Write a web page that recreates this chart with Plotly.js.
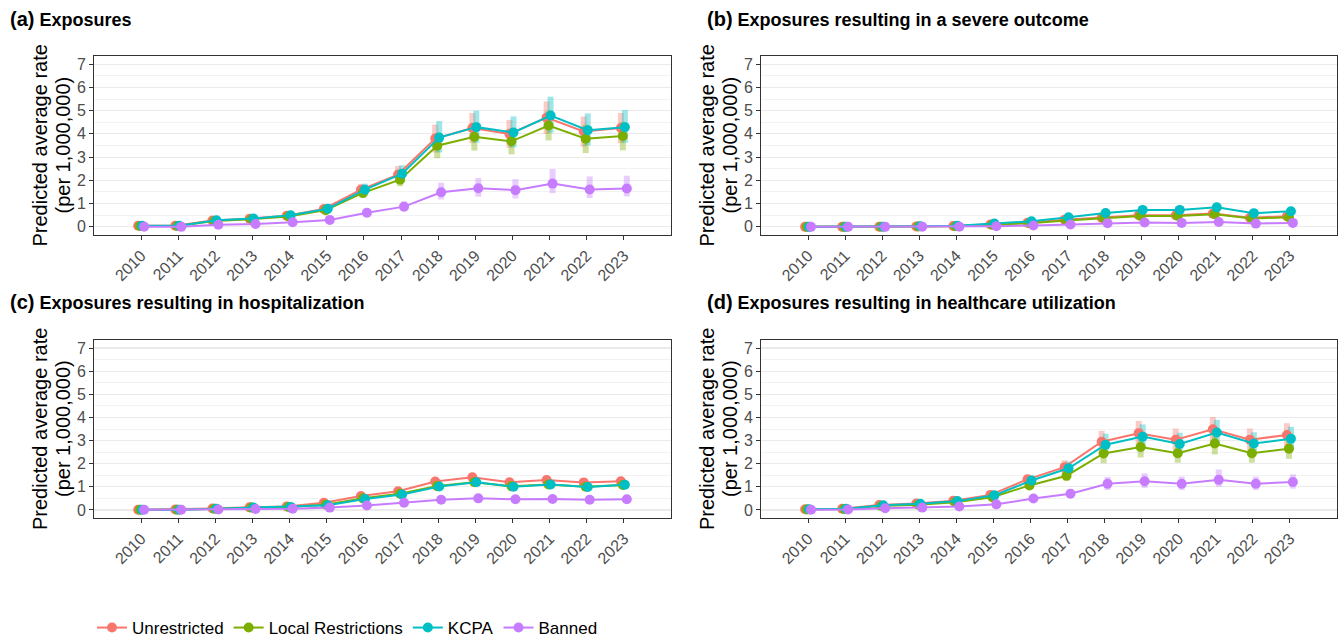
<!DOCTYPE html>
<html>
<head>
<meta charset="utf-8">
<script src="https://cdn.plot.ly/plotly-3.0.1.min.js"></script>
<style>html,body{margin:0;padding:0;background:#fff;}#chart{width:1344px;height:640px;}</style>
</head>
<body>
<div id="chart"></div>
<script>
// ---------------- DATA ----------------
const years = [2010,2011,2012,2013,2014,2015,2016,2017,2018,2019,2020,2021,2022,2023];
const yearLabels = years.map(String);
const seriesNames = ['Unrestricted','Local Restrictions','KCPA','Banned'];
const panelTitles = ['Exposures','Exposures resulting in a severe outcome','Exposures resulting in hospitalization','Exposures resulting in healthcare utilization'];
const panelTags = ['(a)','(b)','(c)','(d)'];

// (a) Exposures  — rows: Unrestricted, Local Restrictions, KCPA, Banned
const expVal = [
  [0.05,0.05,0.27,0.35,0.48,0.77,1.60,2.25,3.80,4.25,4.00,4.70,4.10,4.25],
  [0.04,0.04,0.25,0.33,0.45,0.72,1.46,2.03,3.49,3.88,3.68,4.36,3.79,3.91],
  [0.05,0.05,0.28,0.36,0.50,0.78,1.60,2.29,3.84,4.29,4.06,4.79,4.16,4.29],
  [0.01,0.00,0.09,0.12,0.20,0.30,0.61,0.87,1.49,1.66,1.58,1.86,1.61,1.65]];
const expLo = [
  [0.02,0.02,0.20,0.27,0.38,0.62,1.35,1.90,3.20,3.60,3.40,4.00,3.45,3.60],
  [0.02,0.02,0.19,0.26,0.36,0.58,1.24,1.75,2.95,3.28,3.12,3.72,3.17,3.29],
  [0.02,0.02,0.21,0.28,0.40,0.63,1.36,1.95,3.20,3.62,3.42,4.05,3.50,3.62],
  [0.00,0.00,0.05,0.07,0.13,0.21,0.47,0.68,1.18,1.30,1.22,1.45,1.24,1.31]];
const expHi = [
  [0.09,0.09,0.34,0.44,0.59,0.93,1.85,2.62,4.40,4.90,4.60,5.40,4.75,4.90],
  [0.07,0.07,0.31,0.40,0.54,0.86,1.70,2.32,4.02,4.48,4.24,5.00,4.40,4.52],
  [0.09,0.09,0.36,0.45,0.61,0.94,1.86,2.65,4.55,5.00,4.75,5.60,4.88,5.03],
  [0.03,0.02,0.14,0.18,0.28,0.41,0.77,1.10,1.90,2.10,2.05,2.49,2.17,2.20]];

// (b) Severe outcome
const sevVal = [
  [0.00,0.00,0.01,0.02,0.04,0.10,0.18,0.31,0.39,0.50,0.50,0.57,0.39,0.46],
  [0.00,0.00,0.01,0.02,0.03,0.09,0.16,0.27,0.37,0.47,0.47,0.54,0.36,0.41],
  [0.00,0.00,0.01,0.03,0.05,0.14,0.24,0.41,0.60,0.73,0.73,0.84,0.59,0.67],
  [0.00,0.00,0.00,0.01,0.01,0.03,0.06,0.10,0.16,0.19,0.17,0.21,0.14,0.17]];
const sevLo = [
  [0.00,0.00,0.00,0.01,0.03,0.07,0.14,0.25,0.32,0.42,0.42,0.48,0.32,0.38],
  [0.00,0.00,0.00,0.01,0.02,0.07,0.12,0.22,0.30,0.39,0.39,0.45,0.29,0.33],
  [0.00,0.00,0.00,0.02,0.03,0.10,0.19,0.33,0.49,0.60,0.60,0.69,0.48,0.55],
  [0.00,0.00,0.00,0.00,0.00,0.02,0.04,0.07,0.12,0.14,0.12,0.15,0.10,0.12]];
const sevHi = [
  [0.01,0.01,0.02,0.03,0.05,0.13,0.22,0.37,0.47,0.59,0.59,0.67,0.47,0.55],
  [0.01,0.01,0.02,0.03,0.04,0.11,0.20,0.33,0.45,0.56,0.56,0.64,0.44,0.50],
  [0.01,0.01,0.02,0.04,0.07,0.18,0.30,0.50,0.72,0.87,0.87,1.00,0.71,0.80],
  [0.01,0.01,0.01,0.02,0.02,0.05,0.08,0.13,0.21,0.25,0.23,0.28,0.19,0.23]];

// (c) Hospitalization
const hospVal = [
  [0.01,0.02,0.06,0.11,0.15,0.31,0.60,0.81,1.23,1.41,1.20,1.29,1.19,1.24],
  [0.01,0.01,0.05,0.10,0.13,0.22,0.50,0.70,1.03,1.20,1.02,1.10,1.00,1.08],
  [0.01,0.01,0.05,0.10,0.13,0.20,0.47,0.67,1.01,1.20,1.00,1.10,0.99,1.09],
  [0.01,0.01,0.02,0.04,0.05,0.10,0.19,0.31,0.44,0.50,0.46,0.47,0.44,0.46]];
const hospLo = [
  [0.00,0.01,0.04,0.09,0.12,0.26,0.52,0.70,1.07,1.23,1.04,1.12,1.03,1.08],
  [0.00,0.00,0.04,0.08,0.10,0.18,0.43,0.60,0.89,1.04,0.88,0.95,0.86,0.93],
  [0.00,0.00,0.04,0.08,0.10,0.16,0.40,0.58,0.87,1.04,0.86,0.95,0.85,0.94],
  [0.00,0.00,0.01,0.02,0.03,0.07,0.15,0.25,0.37,0.42,0.38,0.39,0.36,0.38]];
const hospHi = [
  [0.02,0.03,0.08,0.13,0.18,0.36,0.68,0.92,1.39,1.59,1.36,1.46,1.35,1.40],
  [0.02,0.02,0.07,0.12,0.16,0.26,0.57,0.80,1.17,1.36,1.16,1.25,1.14,1.23],
  [0.02,0.02,0.07,0.12,0.16,0.24,0.54,0.77,1.15,1.36,1.14,1.25,1.13,1.24],
  [0.02,0.02,0.03,0.06,0.07,0.13,0.23,0.37,0.52,0.59,0.55,0.56,0.53,0.55]];

// (d) Healthcare utilization
const hcuVal = [
  [0.03,0.05,0.21,0.28,0.40,0.65,1.32,1.85,2.95,3.32,3.04,3.49,3.04,3.24],
  [0.02,0.04,0.17,0.22,0.33,0.55,1.06,1.48,2.44,2.72,2.45,2.87,2.45,2.65],
  [0.03,0.05,0.20,0.27,0.38,0.63,1.27,1.80,2.82,3.17,2.85,3.35,2.87,3.08],
  [0.01,0.02,0.07,0.10,0.15,0.24,0.49,0.70,1.13,1.24,1.13,1.30,1.13,1.21]];
const hcuLo = [
  [0.01,0.03,0.16,0.22,0.33,0.54,1.12,1.57,2.50,2.82,2.58,2.96,2.58,2.75],
  [0.01,0.02,0.13,0.17,0.27,0.45,0.89,1.25,2.02,2.27,2.04,2.40,2.04,2.21],
  [0.01,0.03,0.15,0.21,0.31,0.52,1.07,1.52,2.38,2.68,2.40,2.83,2.42,2.60],
  [0.00,0.01,0.04,0.06,0.10,0.17,0.38,0.55,0.86,0.95,0.86,1.00,0.86,0.92]];
const hcuHi = [
  [0.05,0.08,0.26,0.35,0.48,0.77,1.54,2.15,3.42,3.85,3.52,4.02,3.52,3.75],
  [0.04,0.06,0.21,0.28,0.40,0.66,1.24,1.73,2.88,3.20,2.88,3.36,2.88,3.11],
  [0.05,0.08,0.25,0.34,0.46,0.75,1.49,2.10,3.30,3.70,3.34,3.90,3.36,3.60],
  [0.03,0.04,0.10,0.14,0.20,0.32,0.62,0.88,1.43,1.58,1.44,1.75,1.44,1.54]];

// ---------------- STYLE ----------------
const colors = ['#F8766D','#7CAE00','#00BFC4','#C77CFF'];
const bandColors = ['rgba(248,118,109,0.38)','rgba(124,174,0,0.38)','rgba(0,191,196,0.38)','rgba(199,124,255,0.38)'];
const dodge = [-0.08,-0.027,0.027,0.08];
const W = 1344, H = 640;
const px = v => v / W, py = v => 1 - v / H;

const panels = [
  {val: expVal, lo: expLo, hi: expHi, x0: 94, x1: 671, y0: 56, y1: 235},
  {val: sevVal, lo: sevLo, hi: sevHi, x0: 761, x1: 1337, y0: 56, y1: 235},
  {val: hospVal, lo: hospLo, hi: hospHi, x0: 94, x1: 671, y0: 340, y1: 518},
  {val: hcuVal, lo: hcuLo, hi: hcuHi, x0: 761, x1: 1337, y0: 340, y1: 518}
];

const traces = [];
const layout = {
  width: W, height: H,
  margin: {l: 0, r: 0, t: 0, b: 0, autoexpand: false},
  paper_bgcolor: '#ffffff', plot_bgcolor: '#ffffff',
  font: {family: 'Liberation Sans, Arial, sans-serif', color: '#000'},
  showlegend: true,
  legend: {orientation: 'h', x: px(92), y: py(628), xanchor: 'left', yanchor: 'middle',
           font: {size: 17, color: '#000'}, bgcolor: 'rgba(0,0,0,0)', itemwidth: 30},
  annotations: []
};

panels.forEach((p, i) => {
  const n = i + 1;
  const xa = n === 1 ? 'x' : 'x' + n, ya = n === 1 ? 'y' : 'y' + n;
  // error bars (drawn first)
  for (let s = 0; s < 4; s++) {
    traces.push({
      type: 'scatter', mode: 'markers', xaxis: xa, yaxis: ya,
      x: years.map(y => y + dodge[s]), y: p.val[s],
      marker: {size: 2, opacity: 0, color: colors[s]},
      error_y: {type: 'data', symmetric: false,
        array: p.hi[s].map((h, k) => h - p.val[s][k]),
        arrayminus: p.val[s].map((v, k) => v - p.lo[s][k]),
        color: bandColors[s], thickness: 6, width: 0},
      showlegend: false, hoverinfo: 'skip'
    });
  }
  for (let s = 0; s < 4; s++) {
    traces.push({
      type: 'scatter', mode: 'lines+markers', xaxis: xa, yaxis: ya,
      x: years.map(y => y + dodge[s]), y: p.val[s],
      name: seriesNames[s], legendgroup: seriesNames[s], showlegend: i === 0,
      line: {color: colors[s], width: 2},
      marker: {size: 10, color: colors[s]}
    });
  }
  const axX = {
    domain: [px(p.x0), px(p.x1)], anchor: ya, range: [2010 - 1.27, 2023 + 1.27],
    tickmode: 'array', tickvals: years, ticktext: yearLabels, tickangle: -45,
    tickfont: {size: 16, color: '#4D4D4D'}, ticks: 'outside', ticklen: 4, tickcolor: '#333333',
    showgrid: false, zeroline: false, showline: true, mirror: true, linecolor: '#333333', linewidth: 1,
    fixedrange: true, automargin: false
  };
  const axY = {
    domain: [py(p.y1), py(p.y0)], anchor: xa, range: [-0.35, 7.35],
    tickmode: 'linear', tick0: 0, dtick: 1,
    tickfont: {size: 16, color: '#4D4D4D'}, ticks: 'outside', ticklen: 4, tickcolor: '#333333',
    showgrid: true, gridcolor: '#EBEBEB', gridwidth: 1.2,
    minor: {dtick: 0.5, tick0: 0, showgrid: true, gridcolor: '#F2F2F2', gridwidth: 1, ticks: ''},
    zeroline: false, showline: true, mirror: true, linecolor: '#333333', linewidth: 1,
    fixedrange: true, automargin: false
  };
  layout['xaxis' + (n === 1 ? '' : n)] = axX;
  layout['yaxis' + (n === 1 ? '' : n)] = axY;

  // panel title
  const tx = i % 2 === 0 ? 8 : 705;
  const ty = i < 2 ? 19 : 302;
  layout.annotations.push({
    xref: 'paper', yref: 'paper', x: px(tx), y: py(ty), xanchor: 'left', yanchor: 'middle',
    showarrow: false,
    text: '<b><span style="font-size:20px">' + panelTags[i] + '</span> ' + panelTitles[i] + '</b>',
    font: {size: 18, color: '#000'}
  });
  // y-axis title (two lines)
  const cy = (p.y0 + p.y1) / 2;
  const lx = i % 2 === 0 ? 0 : 667;
  layout.annotations.push({
    xref: 'paper', yref: 'paper', x: px(lx + 40), y: py(cy), xanchor: 'center', yanchor: 'middle',
    showarrow: false, textangle: -90, text: 'Predicted average rate', font: {size: 20, color: '#000'}
  });
  layout.annotations.push({
    xref: 'paper', yref: 'paper', x: px(lx + 63), y: py(cy), xanchor: 'center', yanchor: 'middle',
    showarrow: false, textangle: -90, text: '(per 1,000,000)', font: {size: 20, color: '#000'}
  });
});

Plotly.newPlot('chart', traces, layout, {staticPlot: true, displayModeBar: false});
</script>
</body>
</html>
